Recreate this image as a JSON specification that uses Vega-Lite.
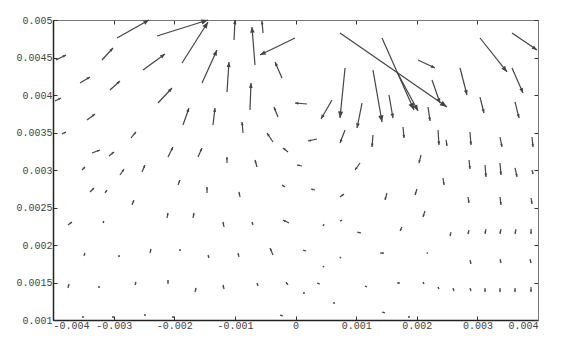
{
  "$schema": "https://vega.github.io/schema/vega-lite/v6.json",
  "width": 485,
  "height": 300,
  "autosize": {"type": "none"},
  "padding": {"left": 53, "top": 20, "right": 27, "bottom": 29},
  "background": "white",
  "config": {
    "view": {"stroke": null},
    "axis": {"labelFont": "Liberation Mono", "labelFontSize": 10, "labelColor": "#444", "grid": false, "tickColor": "#333", "title": null}
  },
  "data": {"values": [
    {"x": -0.002944, "y": 0.00476, "x2": -0.002417, "y2": 0.005},
    {"x": -0.002285, "y": 0.004787, "x2": -0.001443, "y2": 0.005},
    {"x": -0.001872, "y": 0.004427, "x2": -0.001443, "y2": 0.004973},
    {"x": -0.001014, "y": 0.004733, "x2": -0.000998, "y2": 0.005},
    {"x": -0.000668, "y": 0.0044, "x2": -0.000718, "y2": 0.004907},
    {"x": -0.000536, "y": 0.004827, "x2": -0.000553, "y2": 0.004987},
    {"x": -0.000008, "y": 0.00476, "x2": -0.000586, "y2": 0.004533},
    {"x": -0.001542, "y": 0.00416, "x2": -0.001295, "y2": 0.0046},
    {"x": -0.00113, "y": 0.00404, "x2": -0.001097, "y2": 0.00444},
    {"x": -0.000751, "y": 0.0038, "x2": -0.000734, "y2": 0.00416},
    {"x": -0.000223, "y": 0.004227, "x2": -0.000338, "y2": 0.00444},
    {"x": -0.001361, "y": 0.0036, "x2": -0.001328, "y2": 0.003827},
    {"x": -0.000866, "y": 0.003493, "x2": -0.000882, "y2": 0.00364},
    {"x": -0.000289, "y": 0.003707, "x2": -0.000355, "y2": 0.00384},
    {"x": 0.00019, "y": 0.00388, "x2": -0.000008, "y2": 0.003893},
    {"x": 0.000602, "y": 0.003933, "x2": 0.000421, "y2": 0.00368},
    {"x": -0.001856, "y": 0.0036, "x2": -0.001757, "y2": 0.003827},
    {"x": -0.003951, "y": 0.004467, "x2": -0.003786, "y2": 0.004533},
    {"x": -0.003192, "y": 0.004467, "x2": -0.00301, "y2": 0.004627},
    {"x": -0.002515, "y": 0.004333, "x2": -0.002153, "y2": 0.004547},
    {"x": -0.003555, "y": 0.00416, "x2": -0.00339, "y2": 0.00424},
    {"x": -0.00306, "y": 0.004067, "x2": -0.002895, "y2": 0.004187},
    {"x": -0.002268, "y": 0.003893, "x2": -0.002037, "y2": 0.004093},
    {"x": -0.003967, "y": 0.00392, "x2": -0.003868, "y2": 0.00396},
    {"x": -0.003439, "y": 0.003667, "x2": -0.003307, "y2": 0.003747},
    {"x": -0.003852, "y": 0.00348, "x2": -0.003786, "y2": 0.003507},
    {"x": -0.002713, "y": 0.003427, "x2": -0.002631, "y2": 0.003507},
    {"x": -0.003357, "y": 0.003227, "x2": -0.003225, "y2": 0.003267},
    {"x": -0.003076, "y": 0.003187, "x2": -0.002994, "y2": 0.00324},
    {"x": -0.002103, "y": 0.003173, "x2": -0.002021, "y2": 0.003307},
    {"x": -0.003522, "y": 0.003, "x2": -0.003472, "y2": 0.00304},
    {"x": -0.002895, "y": 0.002933, "x2": -0.002829, "y2": 0.003013},
    {"x": -0.002532, "y": 0.002973, "x2": -0.002483, "y2": 0.003067},
    {"x": -0.001608, "y": 0.003173, "x2": -0.001542, "y2": 0.003293},
    {"x": -0.001938, "y": 0.0028, "x2": -0.001905, "y2": 0.002867},
    {"x": -0.00146, "y": 0.002693, "x2": -0.00146, "y2": 0.002773},
    {"x": -0.00339, "y": 0.002707, "x2": -0.003324, "y2": 0.00276},
    {"x": -0.003142, "y": 0.002693, "x2": -0.003109, "y2": 0.002733},
    {"x": -0.002697, "y": 0.002533, "x2": -0.002664, "y2": 0.0026},
    {"x": -0.00212, "y": 0.00236, "x2": -0.002103, "y2": 0.002427},
    {"x": -0.001691, "y": 0.00236, "x2": -0.001674, "y2": 0.002427},
    {"x": -0.003753, "y": 0.002267, "x2": -0.003687, "y2": 0.002307},
    {"x": -0.003175, "y": 0.002293, "x2": -0.003159, "y2": 0.00232},
    {"x": -0.003489, "y": 0.001853, "x2": -0.003472, "y2": 0.001893},
    {"x": -0.002911, "y": 0.00184, "x2": -0.002911, "y2": 0.001867},
    {"x": -0.0024, "y": 0.001893, "x2": -0.002384, "y2": 0.001947},
    {"x": -0.001905, "y": 0.00192, "x2": -0.001905, "y2": 0.001947},
    {"x": -0.003753, "y": 0.001427, "x2": -0.003736, "y2": 0.00148},
    {"x": -0.003241, "y": 0.001427, "x2": -0.003241, "y2": 0.001453},
    {"x": -0.002647, "y": 0.001467, "x2": -0.002631, "y2": 0.001507},
    {"x": -0.002103, "y": 0.00148, "x2": -0.002103, "y2": 0.001533},
    {"x": -0.001658, "y": 0.001373, "x2": -0.001641, "y2": 0.001427},
    {"x": -0.000915, "y": 0.00264, "x2": -0.000932, "y2": 0.002707},
    {"x": -0.000173, "y": 0.002773, "x2": -0.000223, "y2": 0.0028},
    {"x": 0.000322, "y": 0.002733, "x2": 0.000256, "y2": 0.002747},
    {"x": 0.000734, "y": 0.00264, "x2": 0.0008, "y2": 0.00268},
    {"x": -0.001179, "y": 0.00224, "x2": -0.001196, "y2": 0.002307},
    {"x": -0.000701, "y": 0.002267, "x2": -0.000718, "y2": 0.002307},
    {"x": -0.000107, "y": 0.002293, "x2": -0.000206, "y2": 0.002333},
    {"x": 0.000454, "y": 0.002253, "x2": 0.00047, "y2": 0.00228},
    {"x": 0.000734, "y": 0.00232, "x2": 0.000767, "y2": 0.002333},
    {"x": 0.001015, "y": 0.002173, "x2": 0.001081, "y2": 0.00216},
    {"x": -0.001427, "y": 0.001827, "x2": -0.001443, "y2": 0.001867},
    {"x": -0.000932, "y": 0.00184, "x2": -0.000948, "y2": 0.001893},
    {"x": -0.000371, "y": 0.001867, "x2": -0.000421, "y2": 0.00196},
    {"x": 0.000173, "y": 0.00192, "x2": 0.000124, "y2": 0.001933},
    {"x": 0.000454, "y": 0.001707, "x2": 0.00047, "y2": 0.00172},
    {"x": 0.000734, "y": 0.001827, "x2": 0.000751, "y2": 0.00184},
    {"x": 0.001394, "y": 0.001893, "x2": 0.00146, "y2": 0.001893},
    {"x": -0.001179, "y": 0.001413, "x2": -0.001196, "y2": 0.001467},
    {"x": -0.000619, "y": 0.001453, "x2": -0.000635, "y2": 0.001493},
    {"x": -0.000124, "y": 0.001467, "x2": -0.000157, "y2": 0.001507},
    {"x": 0.000124, "y": 0.00136, "x2": 0.000157, "y2": 0.00136},
    {"x": 0.000404, "y": 0.00148, "x2": 0.000355, "y2": 0.001493},
    {"x": 0.000652, "y": 0.001227, "x2": 0.000619, "y2": 0.001227},
    {"x": 0.001146, "y": 0.001453, "x2": 0.001179, "y2": 0.00144},
    {"x": -0.000206, "y": 0.001053, "x2": -0.000256, "y2": 0.001067},
    {"x": 0.002433, "y": 0.002893, "x2": 0.00245, "y2": 0.0028},
    {"x": 0.001509, "y": 0.002693, "x2": 0.001476, "y2": 0.0026},
    {"x": 0.002004, "y": 0.002747, "x2": 0.001971, "y2": 0.002667},
    {"x": 0.002845, "y": 0.00264, "x2": 0.002862, "y2": 0.00256},
    {"x": 0.003373, "y": 0.00264, "x2": 0.00339, "y2": 0.002533},
    {"x": 0.003885, "y": 0.002627, "x2": 0.003901, "y2": 0.002547},
    {"x": 0.002136, "y": 0.002453, "x2": 0.002103, "y2": 0.002373},
    {"x": 0.001757, "y": 0.00224, "x2": 0.001724, "y2": 0.002187},
    {"x": 0.002565, "y": 0.002173, "x2": 0.002549, "y2": 0.00212},
    {"x": 0.002862, "y": 0.0022, "x2": 0.002845, "y2": 0.002147},
    {"x": 0.003142, "y": 0.002213, "x2": 0.003126, "y2": 0.002147},
    {"x": 0.00339, "y": 0.002213, "x2": 0.003373, "y2": 0.002147},
    {"x": 0.003637, "y": 0.002213, "x2": 0.003621, "y2": 0.002147},
    {"x": 0.003885, "y": 0.002213, "x2": 0.003885, "y2": 0.002147},
    {"x": 0.002169, "y": 0.001893, "x2": 0.002186, "y2": 0.001893},
    {"x": 0.002878, "y": 0.0018, "x2": 0.002895, "y2": 0.001747},
    {"x": 0.003373, "y": 0.001813, "x2": 0.00339, "y2": 0.00176},
    {"x": 0.003868, "y": 0.001813, "x2": 0.003885, "y2": 0.00176},
    {"x": 0.001674, "y": 0.001493, "x2": 0.001724, "y2": 0.001493},
    {"x": 0.002103, "y": 0.001507, "x2": 0.00212, "y2": 0.00148},
    {"x": 0.002351, "y": 0.00144, "x2": 0.002367, "y2": 0.001413},
    {"x": 0.002598, "y": 0.001427, "x2": 0.002615, "y2": 0.001387},
    {"x": 0.002878, "y": 0.001427, "x2": 0.002895, "y2": 0.001387},
    {"x": 0.003126, "y": 0.001427, "x2": 0.003126, "y2": 0.001373},
    {"x": 0.003373, "y": 0.001427, "x2": 0.003373, "y2": 0.001373},
    {"x": 0.003621, "y": 0.001427, "x2": 0.003621, "y2": 0.001373},
    {"x": 0.003885, "y": 0.00144, "x2": 0.003885, "y2": 0.001373},
    {"x": 0.001427, "y": 0.001107, "x2": 0.001476, "y2": 0.001093},
    {"x": 0.001856, "y": 0.00104, "x2": 0.001889, "y2": 0.00104},
    {"x": 0.000734, "y": 0.004827, "x2": 0.002499, "y2": 0.00384},
    {"x": 0.001427, "y": 0.00476, "x2": 0.001955, "y2": 0.0038},
    {"x": 0.001674, "y": 0.004307, "x2": 0.002021, "y2": 0.003787},
    {"x": 0.002021, "y": 0.004467, "x2": 0.002301, "y2": 0.00436},
    {"x": 0.002252, "y": 0.0042, "x2": 0.002384, "y2": 0.003893},
    {"x": 0.000817, "y": 0.00436, "x2": 0.000734, "y2": 0.003693},
    {"x": 0.001097, "y": 0.003893, "x2": 0.001015, "y2": 0.00356},
    {"x": 0.001278, "y": 0.004333, "x2": 0.001427, "y2": 0.00364},
    {"x": 0.001542, "y": 0.004, "x2": 0.001608, "y2": 0.003693},
    {"x": 0.002186, "y": 0.00384, "x2": 0.002219, "y2": 0.003653},
    {"x": 0.003043, "y": 0.00476, "x2": 0.003489, "y2": 0.004307},
    {"x": 0.003571, "y": 0.004827, "x2": 0.003984, "y2": 0.0046},
    {"x": 0.002714, "y": 0.00436, "x2": 0.002829, "y2": 0.004},
    {"x": 0.003571, "y": 0.00436, "x2": 0.003753, "y2": 0.004027},
    {"x": 0.003043, "y": 0.003973, "x2": 0.003109, "y2": 0.00376},
    {"x": 0.003621, "y": 0.003907, "x2": 0.003687, "y2": 0.003693},
    {"x": 0.001773, "y": 0.003573, "x2": 0.00179, "y2": 0.003427},
    {"x": 0.002351, "y": 0.003533, "x2": 0.002367, "y2": 0.003333},
    {"x": 0.002483, "y": 0.0034, "x2": 0.002499, "y2": 0.00332},
    {"x": 0.002878, "y": 0.003507, "x2": 0.002895, "y2": 0.003333},
    {"x": 0.003373, "y": 0.00344, "x2": 0.003406, "y2": 0.003307},
    {"x": 0.003901, "y": 0.00344, "x2": 0.003918, "y2": 0.003307},
    {"x": 0.001278, "y": 0.003467, "x2": 0.001262, "y2": 0.003307},
    {"x": 0.000817, "y": 0.003533, "x2": 0.000734, "y2": 0.00336},
    {"x": 0.00207, "y": 0.0032, "x2": 0.002037, "y2": 0.003093},
    {"x": 0.002862, "y": 0.003133, "x2": 0.002878, "y2": 0.003013},
    {"x": 0.003126, "y": 0.003067, "x2": 0.003142, "y2": 0.002907},
    {"x": 0.003373, "y": 0.003093, "x2": 0.00339, "y2": 0.002933},
    {"x": 0.003621, "y": 0.003027, "x2": 0.003654, "y2": 0.002907},
    {"x": 0.003901, "y": 0.003, "x2": 0.003918, "y2": 0.002947},
    {"x": -0.000371, "y": 0.003373, "x2": -0.00047, "y2": 0.003493},
    {"x": -0.000124, "y": 0.00324, "x2": -0.000206, "y2": 0.003293},
    {"x": 0.000355, "y": 0.003413, "x2": 0.000206, "y2": 0.003387},
    {"x": -0.00113, "y": 0.003093, "x2": -0.00113, "y2": 0.003173},
    {"x": -0.000635, "y": 0.00304, "x2": -0.000668, "y2": 0.003133},
    {"x": 0.000107, "y": 0.003053, "x2": 0.000025, "y2": 0.003067},
    {"x": 0.001064, "y": 0.003093, "x2": 0.000982, "y2": 0.003},
    {"x": -0.003505, "y": 0.001027, "x2": -0.003505, "y2": 0.001053},
    {"x": -0.00301, "y": 0.001027, "x2": -0.00301, "y2": 0.001053},
    {"x": -0.002483, "y": 0.001053, "x2": -0.002483, "y2": 0.00108},
    {"x": -0.002021, "y": 0.001027, "x2": -0.002021, "y2": 0.001053}
  ]},
  "transform": [
    {"calculate": "(datum.x2 - datum.x) * 60625", "as": "dxp"},
    {"calculate": "(datum.y2 - datum.y) * 75000", "as": "dyp"},
    {"calculate": "atan2(datum.dxp, datum.dyp) * 180 / PI", "as": "ang"},
    {"calculate": "sqrt(datum.dxp * datum.dxp + datum.dyp * datum.dyp)", "as": "len"}
  ],
  "layer": [
    {
      "mark": {"type": "rule", "color": "#444", "strokeWidth": 1.2},
      "encoding": {
        "x": {"field": "x", "type": "quantitative", "scale": {"domain": [-0.004, 0.004], "nice": false, "zero": false},
          "axis": {"orient": "bottom", "values": [-0.004, -0.003, -0.002, -0.001, 0, 0.001, 0.002, 0.003, 0.004], "labelExpr": "'' + datum.value", "tickSize": -4, "domainColor": "#222", "domainWidth": 1.5, "labelPadding": 4}},
        "y": {"field": "y", "type": "quantitative", "scale": {"domain": [0.001, 0.005], "nice": false, "zero": false},
          "axis": {"orient": "left", "values": [0.001, 0.0015, 0.002, 0.0025, 0.003, 0.0035, 0.004, 0.0045, 0.005], "labelExpr": "'' + datum.value", "tickSize": -4, "domainColor": "#222", "domainWidth": 1.5, "labelPadding": 5}},
        "x2": {"field": "x2"},
        "y2": {"field": "y2"}
      }
    },
    {
      "mark": {"type": "point", "shape": "M0,0L-0.4,1L0.4,1Z", "filled": true, "color": "#444", "opacity": 1, "strokeWidth": 0},
      "encoding": {
        "x": {"field": "x2", "type": "quantitative", "scale": {"domain": [-0.004, 0.004], "nice": false, "zero": false},
          "axis": {"orient": "top", "values": [-0.004, -0.003, -0.002, -0.001, 0, 0.001, 0.002, 0.003, 0.004], "labels": false, "tickSize": -4, "domainColor": "#777", "domainWidth": 1}},
        "y": {"field": "y2", "type": "quantitative", "scale": {"domain": [0.001, 0.005], "nice": false, "zero": false},
          "axis": {"orient": "right", "values": [0.001, 0.0015, 0.002, 0.0025, 0.003, 0.0035, 0.004, 0.0045, 0.005], "labels": false, "tickSize": -4, "domainColor": "#777", "domainWidth": 1}},
        "angle": {"field": "ang", "type": "quantitative", "scale": null},
        "size": {"field": "len", "type": "quantitative", "scale": {"domain": [0, 60], "range": [6, 200], "clamp": true}, "legend": null}
      }
    }
  ],
  "resolve": {"axis": {"x": "independent", "y": "independent"}}
}
